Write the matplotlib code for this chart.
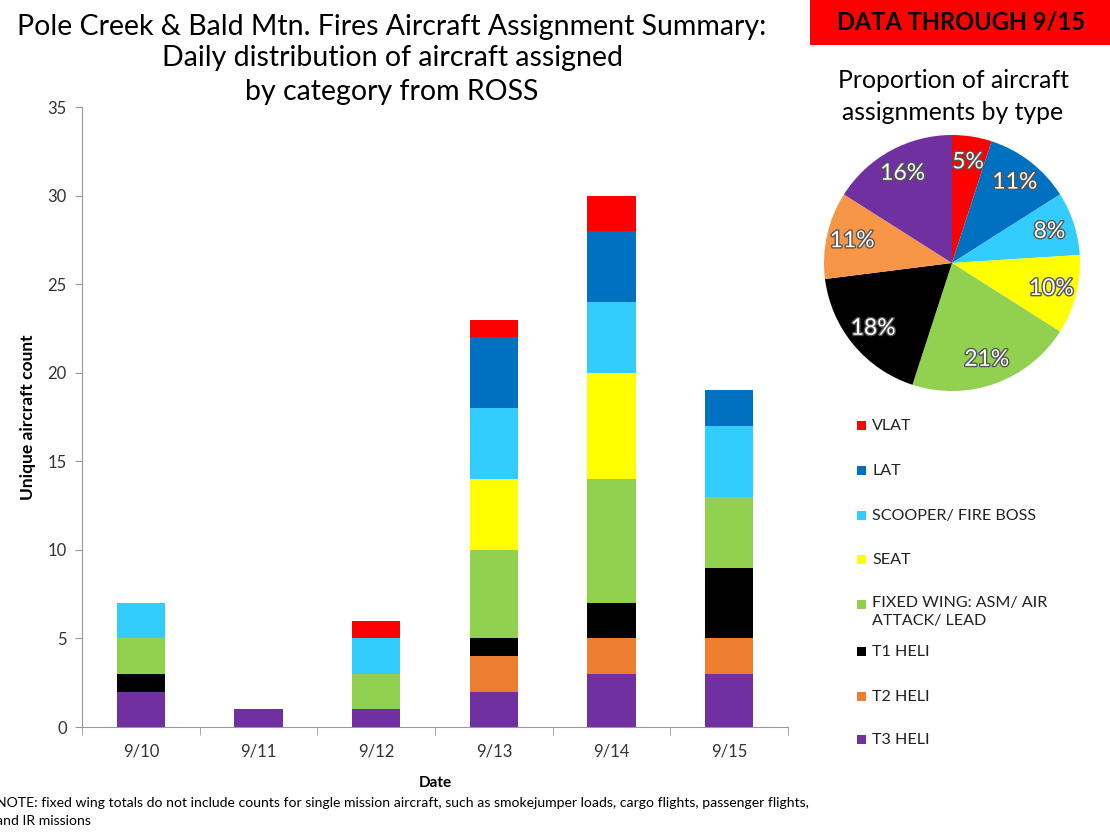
import matplotlib
matplotlib.use("Agg")
import matplotlib.pyplot as plt
import matplotlib.patheffects as pe
from matplotlib.patches import Rectangle
import numpy as np

plt.rcParams['font.family'] = ['Lato', 'DejaVu Sans']

dates = ["9/10", "9/11", "9/12", "9/13", "9/14", "9/15"]
categories = ["T3 HELI", "T2 HELI", "T1 HELI", "FIXED WING: ASM/ AIR\nATTACK/ LEAD",
              "SEAT", "SCOOPER/ FIRE BOSS", "LAT", "VLAT"]
t3_heli = [2, 1, 1, 2, 3, 3]
t2_heli = [0, 0, 0, 2, 2, 2]
t1_heli = [1, 0, 0, 1, 2, 4]
fixed_wing = [2, 0, 2, 5, 7, 4]
seat = [0, 0, 0, 4, 6, 0]
scooper = [2, 0, 2, 4, 4, 4]
lat = [0, 0, 0, 4, 4, 2]
vlat = [0, 0, 1, 1, 2, 0]
series = [t3_heli, t2_heli, t1_heli, fixed_wing, seat, scooper, lat, vlat]
colors = ["#7030A0", "#ED7D31", "#000000", "#92D050", "#FFFF00", "#33CCFF", "#0070C0", "#FF0000"]

# pie: clockwise from top
pie_labels = ["VLAT", "LAT", "SCOOPER/ FIRE BOSS", "SEAT", "FIXED WING", "T1 HELI", "T2 HELI", "T3 HELI"]
pie_pct = [5, 11, 8, 10, 21, 18, 11, 16]
pie_colors = ["#FF0000", "#0070C0", "#33CCFF", "#FFFF00", "#92D050", "#000000", "#F79646", "#7030A0"]

title_lines = ["Pole Creek & Bald Mtn. Fires Aircraft Assignment Summary:",
               "Daily distribution of aircraft assigned",
               "by category from ROSS"]

W, H = 1110, 836
fig = plt.figure(figsize=(W / 100, H / 100), dpi=100)

def fx(px):
    return px / W

def fy(py):
    return 1 - py / H

# bar axes
ax = fig.add_axes([fx(82), fy(727), fx(788 - 82), (727 - 107) / H])
x = np.arange(len(dates))
bottom = np.zeros(len(dates))
for vals, c in zip(series, colors):
    ax.bar(x, vals, bottom=bottom, width=0.41, color=c, edgecolor='none')
    bottom += np.array(vals)
ax.set_xlim(-0.5, len(dates) - 0.5)
ax.set_ylim(0, 35)
ax.set_yticks(range(0, 36, 5))
ax.set_xticks(x)
ax.set_xticklabels(dates)
ax.set_xticks(np.arange(-0.5, len(dates), 1), minor=True)
ax.tick_params(axis='x', which='major', length=0, pad=12, labelsize=12, labelcolor='#333333')
ax.tick_params(axis='x', which='minor', length=6, color='#999999')
ax.tick_params(axis='y', length=5, color='#999999', labelsize=12, pad=6, labelcolor='#333333')
for s in ['top', 'right']:
    ax.spines[s].set_visible(False)
for s in ['left', 'bottom']:
    ax.spines[s].set_color('#999999')
ax.set_xlabel("Date", fontsize=11, fontweight='bold', labelpad=12)
ax.set_ylabel("Unique aircraft count", fontsize=12.5, fontweight='bold', labelpad=8)

# title
for line, yy in zip(title_lines, [27, 58, 92]):
    fig.text(fx(392), fy(yy), line, ha='center', va='center', fontsize=20.5)

# red box
fig.patches.append(Rectangle((fx(810), fy(45)), fx(300), 45 / H, transform=fig.transFigure,
                             facecolor='#FF0000', edgecolor='none'))
fig.text(fx(961), fy(22), "DATA THROUGH 9/15", ha='center', va='center',
         fontsize=17, fontweight='bold', color='black')

# pie title
fig.text(fx(953), fy(80), "Proportion of aircraft", ha='center', va='center', fontsize=17.8)
fig.text(fx(953), fy(112), "assignments by type", ha='center', va='center', fontsize=17.8)

# pie
R = 128
pax = fig.add_axes([fx(952 - R), fy(263 + R), fx(2 * R), 2 * R / H])
wedges, texts = pax.pie(pie_pct, colors=pie_colors, startangle=90, counterclock=False,
                        labels=[f"{p}%" for p in pie_pct], labeldistance=0.8,
                        wedgeprops=dict(linewidth=0))
for t in texts:
    t.set_color('white')
    t.set_fontsize(16.5)
    t.set_ha('center')
    t.set_va('center')
    t.set_path_effects([pe.withStroke(linewidth=2, foreground='#555555')])
pax.set_xlim(-1, 1)
pax.set_ylim(-1, 1)
pax.set_aspect('equal')

# legend (drawn manually, top = VLAT)
leg_y = [426, 471, 516, 560, 605, 652, 697, 740]
leg_items = list(zip(categories[::-1], colors[::-1]))
for (lab, c), yy in zip(leg_items, leg_y):
    fig.patches.append(Rectangle((fx(857), fy(yy + 4)), fx(9), 9 / H, transform=fig.transFigure,
                                 facecolor=c, edgecolor='none'))
    fig.text(fx(872), fy(yy - 9) if '\n' in lab else fy(yy), lab, ha='left',
             va='top' if '\n' in lab else 'center',
             fontsize=11.6, linespacing=1.4, color='#222222')

# note
fig.text(fx(-4), fy(812), "NOTE: fixed wing totals do not include counts for single mission aircraft, such as smokejumper loads, cargo flights, passenger flights,\nand IR missions",
         ha='left', va='center', fontsize=10.1, linespacing=1.55)

fig.savefig("out.png", dpi=100)
